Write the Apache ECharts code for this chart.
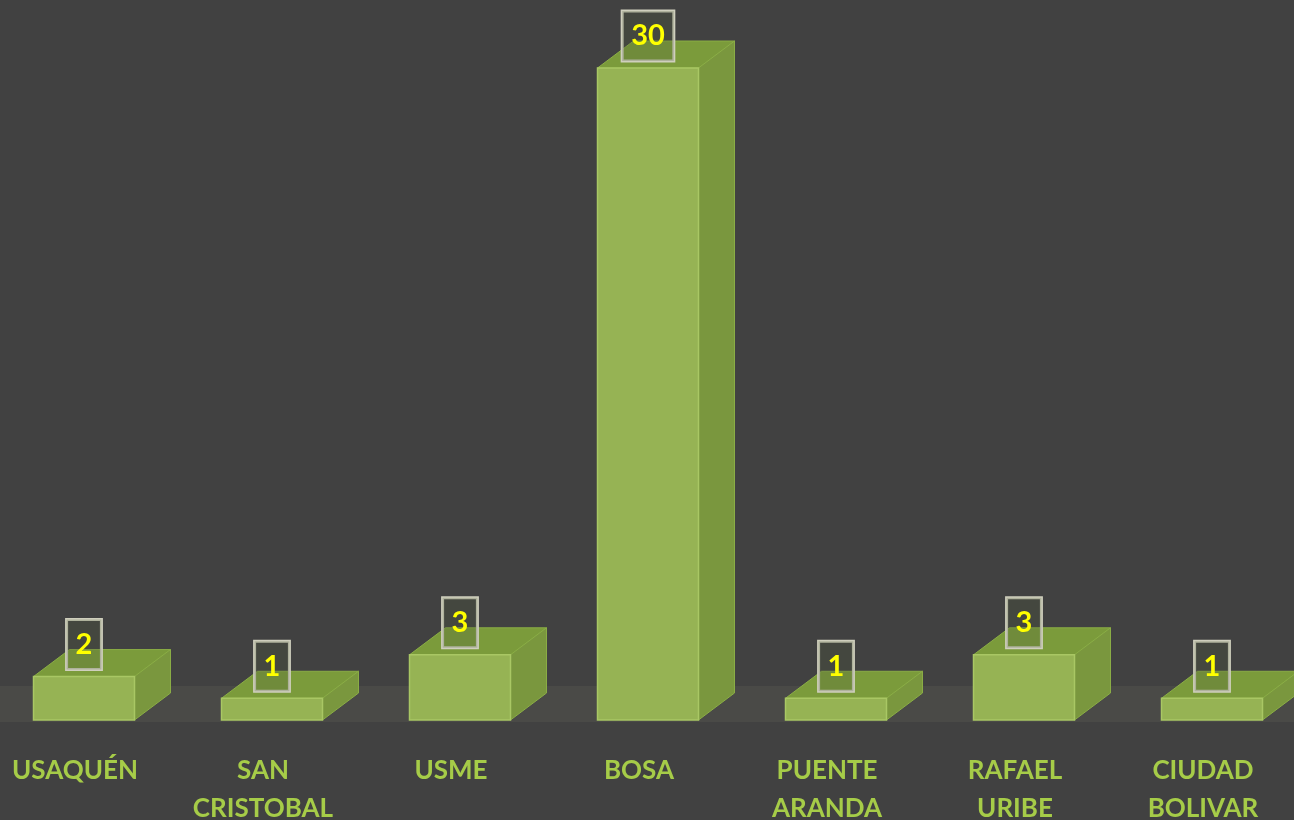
<!DOCTYPE html>
<html>
<head>
<meta charset="utf-8">
<script src="https://cdn.jsdelivr.net/npm/echarts@6/dist/echarts.min.js"></script>
<style>
  html, body { margin: 0; padding: 0; background: #414141; }
  #chart { width: 1294px; height: 820px; }
</style>
</head>
<body>
<div id="chart"></div>
<script>
// categorias y valores
const categorias = ['USAQUÉN', 'SAN\nCRISTOBAL', 'USME', 'BOSA', 'PUENTE\nARANDA', 'RAFAEL\nURIBE', 'CIUDAD\nBOLIVAR'];
const valores = [2, 1, 3, 30, 1, 3, 1];

const chart = echarts.init(document.getElementById('chart'));

// barra 3D: cara frontal, cara superior y cara lateral
function renderBar(params, api) {
    const idx = api.value(0);
    const val = api.value(1);
    const top = api.coord([idx, val]);
    const base = api.coord([idx, 0]);
    const w = 101, dx = 36, dy = -27;
    const x0 = top[0] - w / 2, x1 = top[0] + w / 2;
    const yT = top[1], yB = base[1];
    const cs = params.coordSys;
    const children = [];

    // piso gris (solo una vez)
    if (params.dataIndexInside === 0) {
        children.push({
            type: 'rect', z2: -10,
            shape: { x: -20, y: yB - 34, width: 1400, height: 36 },
            style: { fill: '#4a4a47' }
        });
    }
    children.push({
        type: 'polygon',
        shape: { points: [[x0, yT], [x1, yT], [x1 + dx, yT + dy], [x0 + dx, yT + dy]] },
        style: { fill: '#7b9b3b', stroke: '#8aad45', lineWidth: 1 }
    });
    children.push({
        type: 'polygon',
        shape: { points: [[x1, yT], [x1 + dx, yT + dy], [x1 + dx, yB + dy], [x1, yB]] },
        style: { fill: '#7a973e', stroke: '#8aad45', lineWidth: 1 }
    });
    children.push({
        type: 'rect',
        shape: { x: x0, y: yT, width: w, height: yB - yT },
        style: { fill: '#96b354', stroke: '#a9c764', lineWidth: 1.5 }
    });
    children.push({
        type: 'text',
        style: {
            x: top[0], y: yT - 7,
            text: String(val),
            align: 'center', verticalAlign: 'bottom',
            fill: '#ffff00',
            font: 'bold 29px Lato, sans-serif',
            lineHeight: 28,
            padding: [11, 9],
            borderColor: '#cfcfbd',
            borderWidth: 1.5,
            backgroundColor: 'rgba(80,90,60,0.25)'
        }
    });
    return { type: 'group', children: children };
}

chart.setOption({
    backgroundColor: '#414141',
    animation: false,
    grid: { left: -10, right: -12, top: 68, bottom: 100, outerBoundsMode: 'none', containLabel: false },
    xAxis: {
        type: 'category',
        data: categorias,
        axisLine: { show: false },
        axisTick: { show: false },
        axisLabel: {
            color: '#a6cc48',
            fontFamily: 'Lato, sans-serif',
            fontWeight: 'bold',
            fontSize: 26,
            lineHeight: 38,
            margin: 32,
            padding: [0, 18, 0, 0]
        }
    },
    yAxis: { type: 'value', min: 0, max: 30, show: false, splitLine: { show: false } },
    series: [{
        type: 'custom',
        renderItem: renderBar,
        data: valores.map((v, i) => [i, v]),
        clip: false
    }]
});
</script>
</body>
</html>
